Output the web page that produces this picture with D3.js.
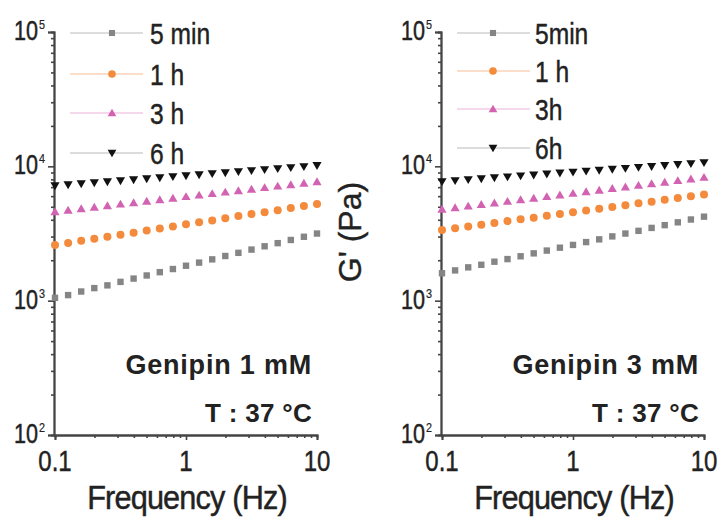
<!DOCTYPE html>
<html>
<head>
<meta charset="utf-8">
<script src="https://cdn.jsdelivr.net/npm/d3@7"></script>
<style>
  html, body { margin: 0; padding: 0; background: #fff; }
  svg { display: block; }
  text { font-family: "Liberation Sans", Arial, sans-serif; fill: #222; }
</style>
</head>
<body>
<svg id="chart" width="721" height="525"></svg>
<script>
// ---------------- data ----------------
const frequency = [0.1, 0.1259, 0.1585, 0.1995, 0.2512, 0.3162, 0.3981, 0.5012, 0.631, 0.7943,
                   1, 1.259, 1.585, 1.995, 2.512, 3.162, 3.981, 5.012, 6.31, 7.943, 10];

const seriesNames = ["5 min", "1 h", "3 h", "6 h"];
const seriesNamesRight = ["5min", "1 h", "3h", "6h"];

// Genipin 1 mM
const g1_5min = [1050, 1100, 1170, 1240, 1300, 1380, 1460, 1540, 1630, 1720, 1820, 1920, 2030, 2150, 2270, 2400, 2540, 2680, 2830, 2990, 3160];
const g1_1h   = [2600, 2690, 2790, 2890, 2990, 3100, 3210, 3330, 3440, 3570, 3700, 3830, 3960, 4100, 4260, 4410, 4560, 4720, 4900, 5070, 5250];
const g1_3h   = [4600, 4720, 4840, 4970, 5100, 5240, 5370, 5510, 5650, 5790, 5960, 6110, 6270, 6430, 6590, 6760, 6950, 7130, 7310, 7500, 7690];
const g1_6h   = [7160, 7290, 7410, 7540, 7670, 7810, 7940, 8080, 8220, 8370, 8510, 8660, 8810, 8960, 9120, 9280, 9440, 9610, 9770, 9940, 10120];

// Genipin 3 mM
const g3_5min = [1600, 1680, 1770, 1850, 1950, 2040, 2140, 2250, 2360, 2480, 2600, 2730, 2860, 3010, 3160, 3310, 3480, 3650, 3830, 4020, 4220];
const g3_1h   = [3360, 3460, 3570, 3680, 3790, 3910, 4030, 4150, 4280, 4410, 4550, 4690, 4840, 4990, 5140, 5300, 5460, 5630, 5800, 5980, 6170];
const g3_3h   = [4790, 4920, 5060, 5200, 5340, 5490, 5640, 5800, 5960, 6130, 6300, 6470, 6650, 6840, 7030, 7220, 7420, 7630, 7840, 8060, 8280];
const g3_6h   = [7690, 7820, 7950, 8080, 8210, 8340, 8480, 8620, 8760, 8900, 9050, 9200, 9350, 9500, 9650, 9810, 9970, 10140, 10300, 10470, 10640];

const xTickValues = [0.1, 1, 10];
const xTickLabels = ["0.1", "1", "10"];
const yTickValues = [100, 1000, 10000, 100000];
const yTickExponents = ["2", "3", "4", "5"];
const panelTitles = ["Genipin 1 mM", "Genipin 3 mM"];
const tempLabel = "T : 37 \u00B0C";
const xAxisTitle = "Frequency (Hz)";
const yAxisTitle = "G' (Pa)";

// ---------------- styles ----------------
const markerColors = ["#858585", "#f38a3c", "#d263b2", "#111111"];
const legendLineColors = ["#d2d2d2", "#f9d3b8", "#f2cbe6", "#d0d0d0"];
const markerKinds = ["square", "circle", "triangle", "triangleDown"];
const axisColor = "#444";

const svg = d3.select("#chart");

const panels = [
  { x0: 55, x1: 317, series: [g1_5min, g1_1h, g1_3h, g1_6h], names: seriesNames,
    legend: { lx0: 70, lx1: 143, mx: 112, tx: 150, ys: [33, 74, 113, 153] },
    title: panelTitles[0] },
  { x0: 442, x1: 704, series: [g3_5min, g3_1h, g3_3h, g3_6h], names: seriesNamesRight,
    legend: { lx0: 457, lx1: 530, mx: 493, tx: 535, ys: [33, 71, 109, 148] },
    title: panelTitles[1] }
];

const Y0 = 435, Y1 = 32;

function drawMarker(g, kind, color, cx, cy, scale) {
  const s = scale || 1;
  if (kind === "square") {
    const h = 3.2 * s;
    g.append("rect").attr("x", cx - h).attr("y", cy - h).attr("width", 2 * h).attr("height", 2 * h).attr("fill", color);
  } else if (kind === "circle") {
    g.append("circle").attr("cx", cx).attr("cy", cy).attr("r", 4 * s).attr("fill", color);
  } else if (kind === "triangle") {
    const w = 4.6 * s, h = 4.4 * s;
    g.append("path").attr("d", `M${cx},${cy - h}L${cx + w},${cy + h * 0.8}L${cx - w},${cy + h * 0.8}Z`).attr("fill", color);
  } else {
    const w = 4.6 * s, h = 4.4 * s;
    g.append("path").attr("d", `M${cx},${cy + h}L${cx + w},${cy - h * 0.8}L${cx - w},${cy - h * 0.8}Z`).attr("fill", color);
  }
}

function condensedText(g, str, x, y, size, sx, anchor, weight) {
  return g.append("text")
    .attr("transform", `translate(${x},${y}) scale(${sx},1)`)
    .attr("text-anchor", anchor || "start")
    .attr("font-size", size)
    .attr("font-weight", weight || "normal")
    .attr("stroke", "#222").attr("stroke-width", 0.45)
    .text(str);
}

panels.forEach((p, pi) => {
  const x = d3.scaleLog().domain([0.1, 10]).range([p.x0, p.x1]);
  const y = d3.scaleLog().domain([100, 100000]).range([Y0, Y1]);
  const g = svg.append("g");

  // minor ticks
  const minorX = [];
  [0.1, 1].forEach(d => { for (let k = 2; k <= 9; k++) minorX.push(d * k); });
  const minorY = [];
  [100, 1000, 10000].forEach(d => { for (let k = 2; k <= 9; k++) minorY.push(d * k); });

  const xMinor = d3.axisBottom(x).tickValues(minorX).tickSize(3).tickFormat("");
  const xMajor = d3.axisBottom(x).tickValues(xTickValues).tickSize(5).tickFormat("");
  const yMinor = d3.axisLeft(y).tickValues(minorY).tickSize(3).tickFormat("");
  const yMajor = d3.axisLeft(y).tickValues(yTickValues).tickSize(6).tickFormat("");

  [xMinor, xMajor].forEach(ax => {
    g.append("g").attr("transform", `translate(0,${Y0})`).call(ax)
      .call(s => s.selectAll("path,line").attr("stroke", axisColor).attr("stroke-width", 1.6));
  });
  [yMinor, yMajor].forEach(ax => {
    g.append("g").attr("transform", `translate(${p.x0 - 1},0)`).call(ax)
      .call(s => s.selectAll("path,line").attr("stroke", axisColor).attr("stroke-width", 1.6));
  });
  g.selectAll(".domain").attr("stroke-width", 1.8);

  // x tick labels
  xTickValues.forEach((v, i) => {
    condensedText(g, xTickLabels[i], x(v), 471, 30, 0.8, "middle");
  });
  // y tick labels 10^n
  yTickValues.forEach((v, i) => {
    const ty = y(v);
    const lx = p.x0 - 17;
    condensedText(g, "10", lx, ty + 8, 27, 0.8, "end");
    condensedText(g, yTickExponents[i], lx + 1, ty - 3, 12, 0.9, "start").attr("stroke-width", 0.2);
  });

  // x axis title
  condensedText(g, xAxisTitle, (p.x0 + p.x1) / 2 + 1, 509, 33, 0.93, "middle")
    .attr("letter-spacing", -0.9);

  // data
  p.series.forEach((vals, si) => {
    const sg = g.append("g");
    vals.forEach((v, j) => drawMarker(sg, markerKinds[si], markerColors[si], x(frequency[j]), y(v)));
  });

  // legend
  const L = p.legend;
  p.names.forEach((nm, si) => {
    const ly = L.ys[si];
    g.append("line").attr("x1", L.lx0).attr("x2", L.lx1).attr("y1", ly).attr("y2", ly)
      .attr("stroke", legendLineColors[si]).attr("stroke-width", 1.4);
    drawMarker(g, markerKinds[si], markerColors[si], L.mx, ly, 0.95);
    condensedText(g, nm, L.tx, ly + 11, 30, 0.82, "start");
  });

  // annotations
  g.append("text").attr("x", p.x1 - 5).attr("y", 374).attr("text-anchor", "end")
    .attr("font-size", 27).attr("font-weight", "bold").attr("letter-spacing", 0.8).text(p.title);
  g.append("text").attr("x", p.x1 - 5).attr("y", 422).attr("text-anchor", "end")
    .attr("font-size", 26).attr("font-weight", "bold").attr("letter-spacing", 0.3).text(tempLabel);
});

// y axis title (shared, placed between panels)
svg.append("text")
  .attr("transform", "translate(361,232) rotate(-90)")
  .attr("text-anchor", "middle")
  .attr("font-size", 32)
  .attr("stroke", "#222").attr("stroke-width", 0.4)
  .text(yAxisTitle);
</script>
</body>
</html>
